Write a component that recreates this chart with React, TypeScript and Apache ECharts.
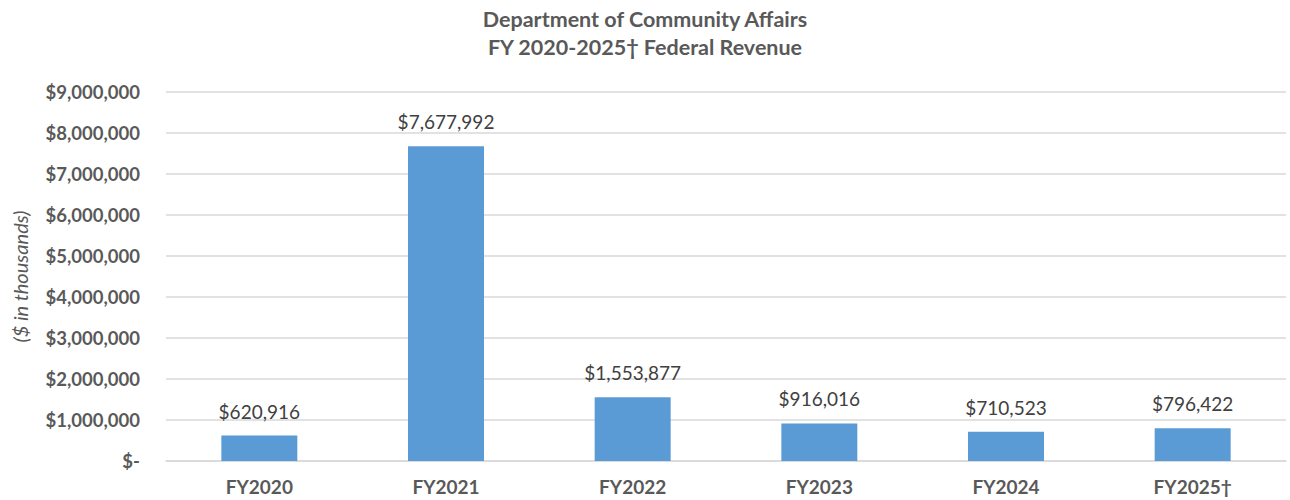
import React, { useEffect, useRef } from "react";
import * as echarts from "echarts";

const categories = ["FY2020", "FY2021", "FY2022", "FY2023", "FY2024", "FY2025\u2020"];
const revenue = [620916, 7677992, 1553877, 916016, 710523, 796422];
const titleLines = ["Department of Community Affairs", "FY 2020-2025\u2020 Federal Revenue"];
const yAxisName = "($ in thousands)";

const FONT = "Lato, 'Open Sans', sans-serif";

function money(v: number): string {
  if (v === 0) return "$-";
  return "$" + v.toLocaleString("en-US");
}

export default function App() {
  const ref = useRef<HTMLDivElement>(null);
  useEffect(() => {
    document.body.style.margin = "0";
    if (!ref.current) return;
    const chart = echarts.init(ref.current, null, { renderer: "svg" });
    chart.setOption({
      animation: false,
      backgroundColor: "#ffffff",
      title: {
        text: titleLines.join("\n"),
        left: "center",
        top: 0,
        textStyle: {
          fontFamily: FONT,
          fontSize: 21.5,
          fontWeight: "bold",
          color: "#595959",
          lineHeight: 28,
        },
      },
      grid: { left: 166, right: 4, top: 92, bottom: 39 },
      xAxis: {
        type: "category",
        data: categories,
        axisLine: { show: true, lineStyle: { color: "#d9d9d9", width: 1.5 } },
        axisTick: { show: false },
        axisLabel: {
          margin: 16,
          fontFamily: FONT,
          fontSize: 19,
          fontWeight: "bold",
          color: "#595959",
        },
      },
      yAxis: {
        type: "value",
        min: 0,
        max: 9000000,
        interval: 1000000,
        name: yAxisName,
        nameLocation: "middle",
        nameGap: 136,
        nameRotate: 90,
        nameTextStyle: {
          fontFamily: FONT,
          fontSize: 20,
          fontStyle: "italic",
          color: "#595959",
        },
        axisLine: { show: false },
        axisTick: { show: false },
        splitLine: { lineStyle: { color: "#d9d9d9", width: 1.5 } },
        axisLabel: {
          margin: 26,
          fontFamily: FONT,
          fontSize: 18.5,
          fontWeight: "bold",
          color: "#595959",
          formatter: (v: number) => money(v),
        },
      },
      series: [
        {
          type: "bar",
          data: revenue,
          barWidth: 76,
          itemStyle: { color: "#5b9bd5" },
          label: {
            show: true,
            position: "top",
            distance: 15,
            fontFamily: FONT,
            fontSize: 19,
            color: "#404040",
            formatter: (p: any) => money(p.value),
          },
        },
      ],
    });
    return () => chart.dispose();
  }, []);
  return <div ref={ref} style={{ width: 1290, height: 500 }} />;
}
